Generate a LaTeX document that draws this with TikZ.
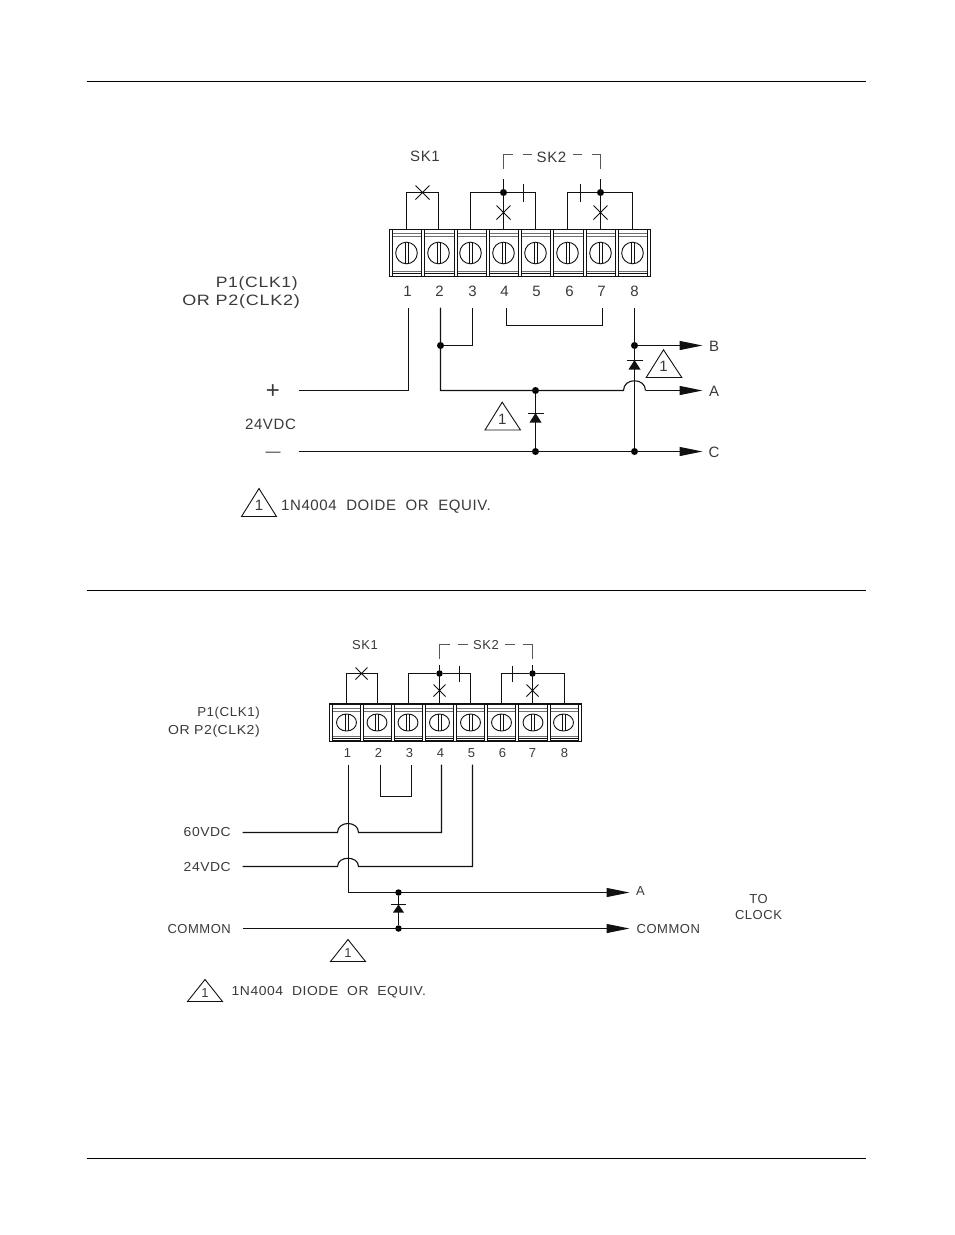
\documentclass[tikz,border=0pt]{standalone}
\usepackage{fontspec}
\setmainfont{Liberation Sans}
\usetikzlibrary{arrows.meta,calc}
\newfontfamily\drawfont[LetterSpace=4]{Liberation Sans}
\definecolor{ink}{HTML}{111111}
\definecolor{txtc}{HTML}{3A3A3A}
\newcommand{\wider}[2]{\scalebox{#1}[1]{#2}}
\tikzset{
  wire/.style={line width=1.1pt,ink,line join=miter},
  thin wire/.style={line width=1pt,ink},
  rule/.style={line width=1pt,black},
  arrowwire/.style={wire,-{Triangle[length=23pt,width=9pt]}},
  junction/.style={circle,fill=black,inner sep=0pt,minimum size=7pt},
  big/.style={font=\drawfont\fontsize{15}{15}\selectfont,text=txtc,inner sep=0pt},
  small/.style={font=\drawfont\fontsize{13}{13}\selectfont,text=txtc,inner sep=0pt},
  tri/.style={line width=0.9pt,ink},
  dash seg/.style={line width=0.9pt,ink!70},
}
\newcommand{\crossmark}[3]{\draw[line width=0.8pt,ink] ($(#1,#2)+(-#3,-#3)$) -- ($(#1,#2)+(#3,#3)$) ($(#1,#2)+(-#3,#3)$) -- ($(#1,#2)+(#3,-#3)$);}
\newcommand{\tstrip}[8]{%
  \draw[line width=1.2pt,ink] (#1,#3) rectangle (#2,#4);
  \draw[line width=0.7pt,ink!60] (#1,#3+4) -- (#2,#3+4) (#1,#3+7) -- (#2,#3+7);
  \draw[line width=0.7pt,ink!60] (#1,#4-5) -- (#2,#4-5);
  \draw[line width=1pt,ink] (#1,#4-3) -- (#2,#4-3);
  \foreach \sx in {#7} {
    \filldraw[fill=white,draw=ink,line width=0.8pt] (\sx-1.5,#3) rectangle (\sx+1.5,#4);
  }
  \foreach \sx in {#8} {
    \draw[line width=0.9pt,ink] (\sx,{(#3+#4)/2}) ellipse [x radius=#5,y radius=#6];
    \draw[line width=0.8pt,ink] (\sx-1.5,{(#3+#4)/2-#6}) -- (\sx-1.5,{(#3+#4)/2+#6})
      (\sx+1.5,{(#3+#4)/2-#6}) -- (\sx+1.5,{(#3+#4)/2+#6});
  }
}
\newcommand{\diode}[4]{%
  \fill[ink] (#1-#4,#3) -- (#1+#4,#3) -- (#1,#2) -- cycle;
  \draw[line width=1pt,ink] (#1-#4-2,#2) -- (#1+#4+2,#2);
}
\newcommand{\flag}[7]{%
  \draw[tri,line join=miter] (#2,#3) -- (#4,#5) -- (#6,#7) -- cycle;
  \node[#1] at ({#4},{#3-0.4*(#3-#5)}) {1};
}
\begin{document}
\begin{tikzpicture}[x=1pt,y=-1pt]
\useasboundingbox (0,0) rectangle (954,1235);
\fill[white] (0,0) rectangle (954,1235);
\begin{scope}[shift={(-0.5pt,-0.5pt)}]

\coordinate (r1a) at (87,81); \coordinate (r1b) at (866,81);
\coordinate (r2a) at (87,590); \coordinate (r2b) at (866,590);
\coordinate (r3a) at (87,1158); \coordinate (r3b) at (866,1158);
\draw[rule] (r1a) -- (r1b);
\draw[rule] (r2a) -- (r2b);
\draw[rule] (r3a) -- (r3b);

%%%%%%%%%%%%%%% TOP DIAGRAM
\tstrip{390}{651}{229}{276}{10.8}{10.8}{391,423,456,488,520,552,585,617,649.5}{407,439,471,504,536,568,601,633}

\node[big] (tsk1) at (425.5,156) {SK1};
\node[big,fill=white,inner xsep=3pt] (tsk2) at (552,157) {SK2};
\node[big,anchor=east] (tp1) at (298.5,283) {\wider{1.17}{P1(CLK1)}};
\node[big,anchor=east] (tp2) at (300.5,301) {\wider{1.2}{OR P2(CLK2)}};
\node[big] (tvdc) at (271,423.5) {24VDC};
\node[big,font=\fontsize{24}{24}\selectfont] (tplus) at (273.5,391) {+};
\node[big] (tminus) at (273.5,454) {—};
\foreach \n/\x in {1/408,2/440,3/473,4/505,5/537,6/570,7/602,8/635}
  \node[big,anchor=base] (tn\n) at (\x,296) {\n};
\node[big] (tB) at (714.5,345.5) {B};
\node[big] (tA) at (714.5,391) {A};
\node[big] (tC) at (714.5,451.5) {C};
\node[big,anchor=west] (tleg) at (281.5,506) {1N4004\ \ DOIDE\ \ OR\ \ EQUIV.};

\coordinate (ts1) at (407,229); \coordinate (ts2) at (439,229);
\coordinate (ts3) at (471,229); \coordinate (ts4) at (504,229);
\coordinate (ts5) at (536,229); \coordinate (ts6) at (568,229);
\coordinate (ts7) at (601,229); \coordinate (ts8) at (633,229);
\draw[wire] (ts1) |- (423,192) -| (ts2);
\crossmark{423}{192}{7}
\node[junction] (tj4) at (504,192) {};
\node[junction] (tj7) at (601,192) {};
\draw[wire] (ts3) |- (tj4) -| (ts5);
\draw[wire] (ts6) |- (tj7) -| (ts8);
\draw[thin wire] (ts4) -- (504,178);
\draw[thin wire] (ts7) -- (601,178);
\crossmark{504}{212}{7}
\crossmark{601}{212}{7}
\draw[thin wire] (524,183) -- (524,201);
\draw[thin wire] (581,183) -- (581,201);
\draw[dash seg] (504,168) -- (504,154) -- (513,154);
\draw[dash seg] (523,154) -- (532,154);
\draw[dash seg] (573,154) -- (582,154);
\draw[dash seg] (592,154) -- (601,154) -- (601,168);

\coordinate (tjl) at (507,307); \coordinate (tjr) at (603,307);
\draw[thin wire] (tjl) |- (555,325) -| (tjr);

\coordinate (tw1) at (409,307); \coordinate (tw2) at (441,307);
\coordinate (tw3) at (473,307); \coordinate (tw8) at (635,307);
\node[junction] (tj2) at (441,345) {};
\node[junction] (tj8) at (635,345) {};
\node[junction] (tja) at (536,390) {};
\node[junction] (tjc) at (536,451) {};
\node[junction] (tjd) at (635,451) {};
\coordinate (tinp) at (299,390);
\coordinate (tinm) at (299,451);
\coordinate (tBe) at (703,345); \coordinate (tAe) at (703,390); \coordinate (tCe) at (703,451);
\coordinate (tb1) at (624,390); \coordinate (tb2) at (646,390);
\draw[wire] (tinp) -| (tw1);
\draw[wire] (tw3) |- (tj2);
\draw[wire] (tw2) |- (tb1) .. controls ($(tb1)+(0,-13)$) and ($(tb2)+(0,-13)$) .. (tb2);
\draw[arrowwire] (tb2) -- (tAe);
\draw[wire] (tw8) -- (tjd);
\draw[arrowwire] (tj8) -- (tBe);
\draw[arrowwire] (tinm) -- (tCe);
\draw[wire] (tja) -- (tjc);
\diode{635}{359.5}{369}{6}
\diode{536}{412.5}{422}{6}
\flag{big}{485.5}{429.5}{502.7}{401.7}{521}{429.5}
\flag{big}{646.7}{377}{664}{349.3}{682.3}{377}
\flag{big}{242}{516}{259.5}{488}{277}{516}

%%%%%%%%%%%%%%% BOTTOM DIAGRAM
\tstrip{330}{582}{703.5}{740.5}{10}{8.5}{331.7,362.3,393.3,424.3,455.3,486.7,517.7,549,580.3}{347,377.5,408.5,440,471,502,533.5,564}

\node[small] (bsk1) at (365.5,645) {SK1};
\node[small,fill=white,inner xsep=3pt] (bsk2) at (486.5,645) {SK2};
\node[small,anchor=east] (bp1) at (260.5,713) {\wider{1.03}{P1(CLK1)}};
\node[small,anchor=east] (bp2) at (260.5,731) {\wider{1.08}{OR P2(CLK2)}};
\foreach \n/\x in {1/348,2/379,3/410,4/441,5/472,6/503,7/533,8/565}
  \node[small,anchor=base] (bn\n) at (\x,756.7) {\n};
\node[small,anchor=east] (b60) at (231.5,832) {\wider{1.07}{60VDC}};
\node[small,anchor=east] (b24) at (231.5,867) {\wider{1.07}{24VDC}};
\node[small,anchor=east] (bcom) at (231.5,929) {COMMON};
\node[small] (bA) at (641,891) {A};
\node[small,anchor=west] (bcom2) at (637,929) {COMMON};
\node[small] (bto) at (759,899) {TO};
\node[small] (bclk) at (759,915) {CLOCK};
\node[small,anchor=west] (bleg) at (232,992) {\wider{1.07}{1N4004\ \ DIODE\ \ OR\ \ EQUIV.}};

\coordinate (bs1) at (347,703.5); \coordinate (bs2) at (378,703.5);
\coordinate (bs3) at (409,703.5); \coordinate (bs4) at (440,703.5);
\coordinate (bs5) at (471,703.5); \coordinate (bs6) at (502,703.5);
\coordinate (bs7) at (533,703.5); \coordinate (bs8) at (565,703.5);
\draw[wire] (bs1) |- (362,673) -| (bs2);
\crossmark{362}{673}{6}
\node[junction,minimum size=6.5pt] (bj4) at (440,673) {};
\node[junction,minimum size=6.5pt] (bj7) at (533,673) {};
\draw[wire] (bs3) |- (bj4) -| (bs5);
\draw[wire] (bs6) |- (bj7) -| (bs8);
\draw[thin wire] (bs4) -- (440,664);
\draw[thin wire] (bs7) -- (533,664);
\crossmark{440}{690}{6}
\crossmark{533}{690}{6}
\draw[thin wire] (460,665) -- (460,681);
\draw[thin wire] (513,665) -- (513,681);
\draw[dash seg] (440,658) -- (440,644) -- (450,644);
\draw[dash seg] (458,644) -- (468,644);
\draw[dash seg] (505,644) -- (515,644);
\draw[dash seg] (523,644) -- (533,644) -- (533,658);

\coordinate (bjl) at (381,764); \coordinate (bjr) at (412,764);
\draw[wire] (bjl) |- (396,796) -| (bjr);

\coordinate (bw1) at (349,764); \coordinate (bw4) at (442,764); \coordinate (bw5) at (473,764);
\node[junction,minimum size=6.5pt] (bja) at (399,892) {};
\node[junction,minimum size=6.5pt] (bjc) at (399,928) {};
\coordinate (bin60) at (243,832); \coordinate (bin24) at (243,866); \coordinate (binc) at (243,928);
\coordinate (b60a) at (338,832); \coordinate (b60b) at (359,832);
\coordinate (b24a) at (338,866); \coordinate (b24b) at (359,866);
\coordinate (bAe) at (630,892); \coordinate (bCe) at (630,928);
\draw[wire] (bin60) -- (b60a) .. controls ($(b60a)+(0,-12)$) and ($(b60b)+(0,-12)$) .. (b60b) -| (bw4);
\draw[wire] (bin24) -- (b24a) .. controls ($(b24a)+(0,-11)$) and ($(b24b)+(0,-11)$) .. (b24b) -| (bw5);
\draw[arrowwire] (bw1) |- (bAe);
\draw[arrowwire] (binc) -- (bCe);
\draw[wire] (bja) -- (bjc);
\diode{399}{904}{912}{5.5}
\flag{small}{331}{961}{348.5}{939}{366}{961}
\flag{small}{188}{1001}{205.5}{979}{223}{1001}
\end{scope}
\end{tikzpicture}
\end{document}
